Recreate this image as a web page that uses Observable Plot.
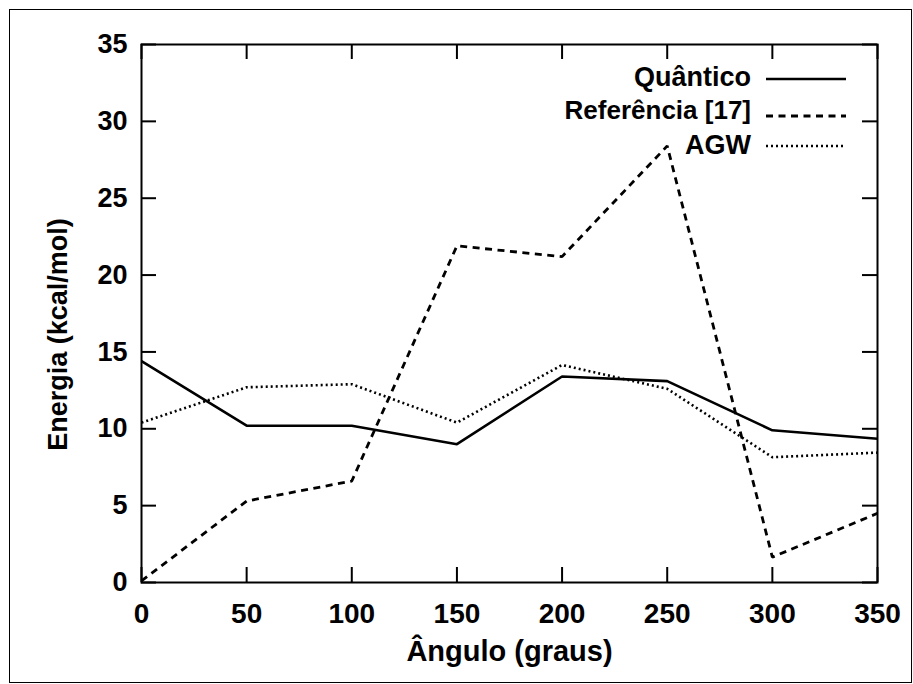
<!DOCTYPE html>
<html>
<head>
<meta charset="utf-8">
<script src="https://cdn.jsdelivr.net/npm/d3@7"></script>
<script src="https://cdn.jsdelivr.net/npm/@observablehq/plot@0.6"></script>
<style>
  html, body { margin: 0; padding: 0; background: #fff; }
  #chart { width: 913px; height: 684px; }
</style>
</head>
<body>
<div id="chart"></div>
<script>
const angles = [0, 50, 100, 150, 200, 250, 300, 350];
const quantico = [14.4, 10.2, 10.2, 9.0, 13.4, 13.1, 9.9, 9.35];
const referencia = [0.1, 5.3, 6.6, 21.9, 21.2, 28.4, 1.65, 4.5];
const agw = [10.4, 12.7, 12.9, 10.4, 14.15, 12.6, 8.15, 8.45];
const xTicks = [0, 50, 100, 150, 200, 250, 300, 350];
const yTicks = [0, 5, 10, 15, 20, 25, 30, 35];
const seriesNames = ["Quântico", "Referência [17]", "AGW"];
const xLabel = "Ângulo (graus)";
const yLabel = "Energia (kcal/mol)";

const dashes = {"Quântico": null, "Referência [17]": "7,5.5", "AGW": "2,3"};
const widths = {"Quântico": 2.6, "Referência [17]": 2.8, "AGW": 2.6};

const rows = [];
[quantico, referencia, agw].forEach((vals, si) => {
  vals.forEach((v, i) => rows.push({series: seriesNames[si], angle: angles[i], energy: v}));
});

const W = 913, H = 684, mL = 141, mR = 36, mT = 44, mB = 102;
const fw = W - mL - mR, fh = H - mT - mB;
const tick = 15;
const font = "'Liberation Sans', Arial, Helvetica, sans-serif";

const lineMarks = seriesNames.map(name => Plot.line(rows.filter(d => d.series === name), {
  x: "angle", y: "energy", stroke: "black", strokeWidth: widths[name],
  strokeDasharray: dashes[name], strokeLinejoin: "miter", strokeLinecap: "butt"
}));

const chart = Plot.plot({
  width: W, height: H,
  marginLeft: mL, marginRight: mR, marginTop: mT, marginBottom: mB,
  x: {domain: [0, 350]},
  y: {domain: [0, 35]},
  style: {fontFamily: font, fontWeight: "bold", color: "black", background: "white"},
  marks: [
    Plot.ruleX(xTicks, {x: d => d, insetTop: fh - tick, strokeWidth: 2}),
    Plot.ruleX(xTicks, {x: d => d, insetBottom: fh - tick, strokeWidth: 2}),
    Plot.ruleY(yTicks, {y: d => d, insetRight: fw - tick, strokeWidth: 2}),
    Plot.ruleY(yTicks, {y: d => d, insetLeft: fw - tick, strokeWidth: 2}),
    Plot.axisX({ticks: xTicks, tickSize: 0, tickPadding: 21, fontSize: 28, fontWeight: "bold", label: null, tickFormat: d => String(d)}),
    Plot.axisY({ticks: yTicks, tickSize: 0, tickPadding: 14, fontSize: 27, fontWeight: "bold", label: null, tickFormat: d => String(d)}),
    ...lineMarks,
    Plot.frame({stroke: "black", strokeWidth: 2}),
    Plot.text([xLabel], {text: d => d, frameAnchor: "bottom", dy: 69, fontSize: 29, fontWeight: "bold", lineAnchor: "middle", fill: "black"}),
    Plot.text([yLabel], {text: d => d, frameAnchor: "left", textAnchor: "middle", dx: -(mL - 58), dy: 21, rotate: -90, fontSize: 27, fontWeight: "bold", lineAnchor: "middle", fill: "black"})
  ]
});

document.getElementById("chart").appendChild(chart);

// legend (top-right, inside the frame)
const svg = d3.select(chart);
const legendTextY = [77, 110, 145];
const legendLineY = [79, 116, 146];
const legendSizes = [27, 26, 27];
const lg = svg.append("g").attr("font-family", font).attr("font-weight", "bold");
seriesNames.forEach((name, i) => {
  lg.append("text").attr("x", 751).attr("y", legendTextY[i]).attr("dy", "0.35em")
    .attr("font-size", legendSizes[i])
    .attr("text-anchor", "end").attr("fill", "black").text(name);
  lg.append("line").attr("x1", 766).attr("x2", 846).attr("y1", legendLineY[i]).attr("y2", legendLineY[i])
    .attr("stroke", "black").attr("stroke-width", widths[name])
    .attr("stroke-dasharray", dashes[name]);
});
svg.append("rect").attr("x", 9.5).attr("y", 9.5).attr("width", W - 11).attr("height", H - 11)
  .attr("fill", "none").attr("stroke", "black").attr("stroke-width", 1);
</script>
</body>
</html>
